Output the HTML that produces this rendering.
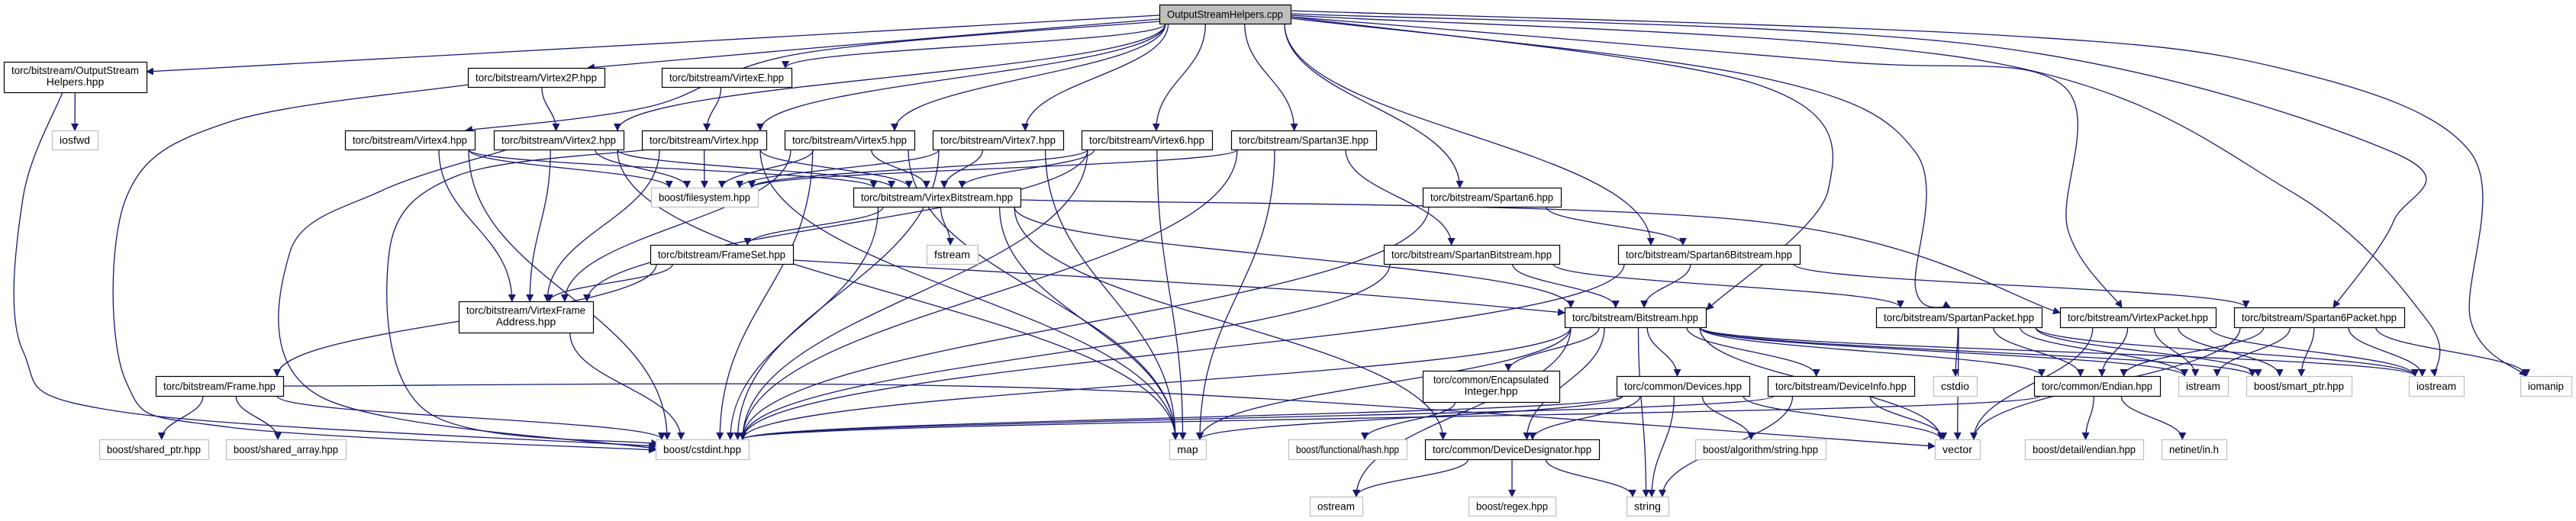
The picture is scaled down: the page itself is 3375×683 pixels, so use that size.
<!DOCTYPE html>
<html><head><meta charset="utf-8">
<style>
html,body{margin:0;padding:0;background:#fff;}
svg{display:block;}
text{font-family:"Liberation Sans",Helvetica,sans-serif;font-size:14px;fill:#000;}
</style></head>
<body>
<svg id="g" width="3375" height="683" viewBox="0 0 3375 683" xmlns="http://www.w3.org/2000/svg">
<defs><marker id="ah" viewBox="0 0 10 10" refX="9" refY="5" markerWidth="10" markerHeight="10" markerUnits="userSpaceOnUse" orient="auto"><path d="M0,0 L10,5 L0,10 z" fill="#191970"/></marker></defs>
<g id="edges"></g>
<g id="nodes"></g>
</svg>
<script>
const nodeIds = ["cpp","osh","iosfwd","v2p","ve","v4","v2","vx","v5","v7","v6","s3e","fs","vb","fset","fstream","vfa","frame","sptr","sarr","cstdint","map","s6","sb","s6b","bs","enc","dev","dinfo","hash","dd","algo","ostream","regex","string","sp","vp","s6p","cstdio","endian","istream","smart","iostream","iomanip","vector","dendian","netinet"];
const nodeLabels = [["OutputStreamHelpers.cpp"],["torc/bitstream/OutputStream","Helpers.hpp"],["iosfwd"],["torc/bitstream/Virtex2P.hpp"],["torc/bitstream/VirtexE.hpp"],["torc/bitstream/Virtex4.hpp"],["torc/bitstream/Virtex2.hpp"],["torc/bitstream/Virtex.hpp"],["torc/bitstream/Virtex5.hpp"],["torc/bitstream/Virtex7.hpp"],["torc/bitstream/Virtex6.hpp"],["torc/bitstream/Spartan3E.hpp"],["boost/filesystem.hpp"],["torc/bitstream/VirtexBitstream.hpp"],["torc/bitstream/FrameSet.hpp"],["fstream"],["torc/bitstream/VirtexFrame","Address.hpp"],["torc/bitstream/Frame.hpp"],["boost/shared_ptr.hpp"],["boost/shared_array.hpp"],["boost/cstdint.hpp"],["map"],["torc/bitstream/Spartan6.hpp"],["torc/bitstream/SpartanBitstream.hpp"],["torc/bitstream/Spartan6Bitstream.hpp"],["torc/bitstream/Bitstream.hpp"],["torc/common/Encapsulated","Integer.hpp"],["torc/common/Devices.hpp"],["torc/bitstream/DeviceInfo.hpp"],["boost/functional/hash.hpp"],["torc/common/DeviceDesignator.hpp"],["boost/algorithm/string.hpp"],["ostream"],["boost/regex.hpp"],["string"],["torc/bitstream/SpartanPacket.hpp"],["torc/bitstream/VirtexPacket.hpp"],["torc/bitstream/Spartan6Packet.hpp"],["cstdio"],["torc/common/Endian.hpp"],["istream"],["boost/smart_ptr.hpp"],["iostream"],["iomanip"],["vector"],["boost/detail/endian.hpp"],["netinet/in.h"]];
const nodeBoxes = [[1519,6,1691,31],[5,81,192,121],[68,171,128,196],[613,89,792,114],[867,89,1037,114],[452,171,622,196],[647,171,817,196],[841,171,1004,196],[1028,171,1198,196],[1222,171,1393,196],[1417,171,1588,196],[1613,171,1803,196],[853,246,993,271],[1118,246,1337,271],[852,321,1039,346],[1214,321,1281,346],[601,395,777,436],[204,493,371,519],[130,576,273,602],[296,576,453,602],[859,576,981,602],[1532,576,1580,602],[1864,246,2045,271],[1813,321,2043,346],[2120,321,2358,346],[2050,403,2235,429],[1864,486,2043,527],[2118,493,2292,519],[2316,493,2508,519],[1688,576,1843,602],[1867,576,2095,602],[2221,576,2392,602],[1716,651,1785,676],[1924,651,2038,676],[2131,651,2186,676],[2458,403,2675,429],[2699,403,2903,429],[2927,403,3150,429],[2533,493,2590,519],[2665,493,2830,519],[2854,493,2919,519],[2943,493,3081,519],[3156,493,3228,519],[3302,493,3369,519],[2535,576,2594,602],[2653,576,2808,602],[2832,576,2917,602]];
const nodeKinds = ["m","b","g","b","b","b","b","b","b","b","b","b","g","b","b","g","b","b","g","g","g","g","b","b","b","b","b","b","b","g","b","g","g","g","g","b","b","b","g","b","g","g","g","g","g","g","g"];
const edgeFrom = ["cpp","cpp","cpp","cpp","cpp","cpp","cpp","cpp","cpp","cpp","cpp","cpp","cpp","cpp","cpp","cpp","cpp","cpp",
"osh","osh","v2p","v2p","ve",
"v4","v4","v4","v4","v2","v2","v2","v2","v2","vx","vx","vx","vx","vx",
"v5","v5","v5","v5","v5","v7","v7","v7","v7","v6","v6","v6","v6","v6",
"s3e","s3e","s3e","s3e","s6","s6",
"vb","vb","vb","vb","vb","vb","vb","fset","fset","fset","vfa",
"frame","frame","frame","frame","sb","sb","sb","s6b","s6b","s6b",
"bs","bs","bs","bs","bs","bs","bs","bs","bs","bs","bs","bs","bs",
"enc","dev","dev","dev","dev","dev","dev","dinfo","dinfo","dinfo","dd","dd","dd",
"sp","sp","sp","sp","sp","sp","vp","vp","vp","vp","vp","s6p","s6p","s6p","s6p","s6p","s6p","endian","endian","endian"];
const edgeTo = ["osh","v2p","ve","v4","v2","vx","v5","v7","v6","s3e","s6","s6b","bs","sp","vp","s6p","iostream","iomanip",
"iosfwd","cstdint","v2","cstdint","vx",
"fs","vb","vfa","cstdint","fs","vb","vfa","cstdint","map","fs","vb","vfa","cstdint","map",
"fs","vb","vfa","cstdint","map","fs","vb","cstdint","map","fs","vb","cstdint","map","vfa",
"fs","sb","cstdint","map","s6b","cstdint",
"fset","fstream","bs","cstdint","vp","dd","map","vfa","frame","bs","cstdint",
"sptr","sarr","cstdint","vector","bs","sp","cstdint","bs","s6p","cstdint",
"enc","dev","dinfo","dd","string","ostream","map","cstdint","istream","iostream","smart","endian","vector",
"hash","dd","string","algo","vector","cstdint","map","vector","string","cstdint","ostream","regex","string",
"cstdio","endian","istream","smart","vector","iostream","endian","istream","smart","iostream","vector","endian","istream","smart","iostream","iomanip","vector","dendian","netinet","cstdint"];

// spline routing hints (layout, not data): start, waypoints..., end
const routes = {
 "cpp>osh":[[1519,20],[900,55],[192,94]],
 "cpp>v2p":[[1519,25],[1100,60],[770,89]],
 "cpp>v4":[[1519,28],[1050,70],[850,140],[610,171]],
 "cpp>iomanip":[[1691,14],[2600,45],[2990,90],[3237,200],[3237,420],[3310,493]],
 "cpp>s6p":[[1691,18],[2600,60],[3136,200],[3136,290],[3057,403]],
 "cpp>vp":[[1691,22],[2400,80],[2700,110],[2709,300],[2780,403]],
 "cpp>iostream":[[1691,20],[2600,80],[3000,250],[3180,420],[3190,493]],
 "cpp>bs":[[1691,22],[2300,110],[2395,250],[2236,406]],
 "cpp>sp":[[1691,24],[2300,100],[2510,200],[2510,380],[2555,403]],
 "osh>cstdint":[[82,121],[30,260],[30,460],[160,540],[859,585]],
 "v2p>cstdint":[[613,111],[300,160],[165,260],[165,500],[300,560],[859,590]],
 "v2>cstdint":[[665,196],[500,250],[380,330],[420,520],[859,588]],
 "vx>cstdint":[[850,196],[600,230],[510,330],[560,540],[862,582]],
 "frame>vector":[[371,506],[1400,510],[2535,585]],
 "vb>vp":[[1337,262],[2300,290],[2699,410]],
 "fset>bs":[[1039,341],[1700,380],[2050,410]]
};

const NS="http://www.w3.org/2000/svg";
const eg=document.getElementById('edges'), ng=document.getElementById('nodes');
const box={};
nodeIds.forEach((id,i)=>{box[id]=nodeBoxes[i];});
function clamp(v,a,b){return Math.max(a,Math.min(b,v));}
function spline(pts){
  let d=`M${pts[0][0]},${pts[0][1]}`;
  for(let i=0;i<pts.length-1;i++){
    const p0=pts[Math.max(0,i-1)],p1=pts[i],p2=pts[i+1],p3=pts[Math.min(pts.length-1,i+2)];
    const c1=[p1[0]+(p2[0]-p0[0])/6,p1[1]+(p2[1]-p0[1])/6];
    const c2=[p2[0]-(p3[0]-p1[0])/6,p2[1]-(p3[1]-p1[1])/6];
    d+=` C${c1[0]},${c1[1]} ${c2[0]},${c2[1]} ${p2[0]},${p2[1]}`;
  }
  return d;
}

for(let i=0;i<edgeFrom.length;i++){
  const s=box[edgeFrom[i]], t=box[edgeTo[i]];
  if(!s||!t) continue;
  const key=edgeFrom[i]+'>'+edgeTo[i];
  let d;
  if(routes[key]){ d=spline(routes[key]); }
  else{
    const scx=(s[0]+s[2])/2, tcx=(t[0]+t[2])/2;
    const sx=clamp(scx+(tcx-scx)*0.25,s[0]+8,s[2]-8);
    const tx=clamp(tcx+(scx-tcx)*0.12,t[0]+8,t[2]-8);
    const sy=s[3], ty=t[1], dy=ty-sy;
    d=`M${sx},${sy} C${sx},${sy+dy*0.45} ${tx},${ty-dy*0.45} ${tx},${ty}`;
  }
  const p=document.createElementNS(NS,'path');
  p.setAttribute('d',d);
  p.setAttribute('fill','none');
  p.setAttribute('stroke','#191970');
  p.setAttribute('stroke-width','1.3');
  p.setAttribute('marker-end','url(#ah)');
  
  
  eg.appendChild(p);
}

nodeIds.forEach((id,i)=>{
  const b=nodeBoxes[i], k=nodeKinds[i], lines=nodeLabels[i];
  const g=document.createElementNS(NS,'g');
  
  
  const r=document.createElementNS(NS,'rect');
  r.setAttribute('x',b[0]+0.5);r.setAttribute('y',b[1]+0.5);
  r.setAttribute('width',b[2]-b[0]);r.setAttribute('height',b[3]-b[1]);
  r.setAttribute('fill',k==='m'?'#bfbfbf':'#ffffff');
  r.setAttribute('stroke',k==='g'?'#bfbfbf':'#000000');
  r.setAttribute('stroke-width','1.2');
  g.appendChild(r);
  const cx=(b[0]+b[2])/2, h=b[3]-b[1];
  lines.forEach((ln,j)=>{
    const tx=document.createElementNS(NS,'text');
    tx.setAttribute('x',cx);
    const y= lines.length===1 ? b[1]+h/2+5 : b[1]+h/2-4+j*15;
    tx.setAttribute('y',y);
    tx.setAttribute('text-anchor','middle');
    const avail=b[2]-b[0]-20;
    const est=ln.length*6.6;
    if(est>avail*0.9||lines.length===1&&est>avail*0.75){
      tx.setAttribute('textLength',Math.min(avail,Math.max(est*0.95,avail*(lines.length>1?0.95:1))));
      tx.setAttribute('lengthAdjust','spacingAndGlyphs');
    }
    tx.textContent=ln;
    
    
    g.appendChild(tx);
  });
  ng.appendChild(g);
});
</script>
</body></html>
